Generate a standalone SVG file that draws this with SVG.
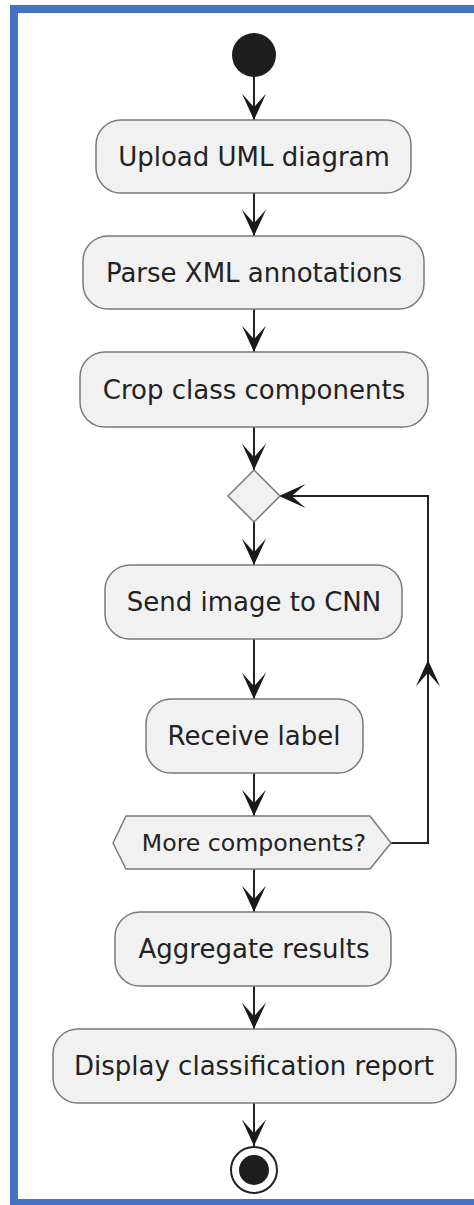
<svg xmlns="http://www.w3.org/2000/svg" width="474" height="1205" viewBox="0 0 474 1205">
<style>
.box{fill:#f1f1f1;stroke:#7a7a7a;stroke-width:1.5}
.lbl{font-family:"DejaVu Sans",sans-serif;font-size:26px;fill:#222;text-anchor:middle}
.small{font-size:23.6px}
.edge{fill:none;stroke:#222;stroke-width:2}
</style>
<defs>
<marker id="arr" markerUnits="userSpaceOnUse" markerWidth="30" markerHeight="30" viewBox="-24 -12 26 24" refX="0" refY="0" orient="auto">
<path d="M0,0 L-23,-10.5 L-11,0 L-23,10.5 Z" fill="#1a1a1a"/>
</marker>
</defs>
<rect x="0" y="0" width="474" height="1205" fill="#ffffff"/>
<rect x="14" y="9" width="470" height="1194" fill="none" stroke="#4472c4" stroke-width="8"/>
<g id="connectors">
<line class="edge" x1="254" y1="77" x2="254" y2="120" marker-end="url(#arr)"/>
<line class="edge" x1="254" y1="193" x2="254" y2="236" marker-end="url(#arr)"/>
<line class="edge" x1="254" y1="309" x2="254" y2="352" marker-end="url(#arr)"/>
<line class="edge" x1="254" y1="427" x2="254" y2="470" marker-end="url(#arr)"/>
<line class="edge" x1="254" y1="522" x2="254" y2="565" marker-end="url(#arr)"/>
<line class="edge" x1="254" y1="639" x2="254" y2="699" marker-end="url(#arr)"/>
<line class="edge" x1="254" y1="773" x2="254" y2="816" marker-end="url(#arr)"/>
<line class="edge" x1="254" y1="869" x2="254" y2="912" marker-end="url(#arr)"/>
<line class="edge" x1="254" y1="986" x2="254" y2="1029" marker-end="url(#arr)"/>
<line class="edge" x1="254" y1="1103" x2="254" y2="1146" marker-end="url(#arr)"/>
<path class="edge" d="M391,843 H428 V660" marker-end="url(#arr)"/>
<path class="edge" d="M428,662 V496 H279" marker-end="url(#arr)"/>
</g>
<g id="start"><circle cx="254" cy="55" r="22" fill="#1e1e1e"/></g>
<g id="upload"><rect class="box" x="96" y="120" width="315" height="73" rx="25"/><text class="lbl" x="254" y="166">Upload UML diagram</text></g>
<g id="parse"><rect class="box" x="83" y="236" width="341" height="73" rx="25"/><text class="lbl" x="254" y="282">Parse XML annotations</text></g>
<g id="crop"><rect class="box" x="80" y="352" width="348" height="75" rx="25"/><text class="lbl" x="254" y="399">Crop class components</text></g>
<g id="merge"><polygon class="box" points="254,470 280,496 254,522 228,496"/></g>
<g id="send"><rect class="box" x="105" y="565" width="297" height="74" rx="25"/><text class="lbl" x="254" y="611">Send image to CNN</text></g>
<g id="receive"><rect class="box" x="146" y="699" width="217" height="74" rx="25"/><text class="lbl" x="254" y="745">Receive label</text></g>
<g id="more"><polygon class="box" points="113,843 126,816 370,816 391,843 370,869 126,869"/><text class="lbl small" x="254" y="851">More components?</text></g>
<g id="aggregate"><rect class="box" x="115" y="912" width="276" height="74" rx="25"/><text class="lbl" x="254" y="958">Aggregate results</text></g>
<g id="display"><rect class="box" x="53" y="1029" width="403" height="74" rx="25"/><text class="lbl" x="254" y="1075">Display classification report</text></g>
<g id="end"><circle cx="254" cy="1170" r="23" fill="#fff" stroke="#222" stroke-width="2"/><circle cx="254" cy="1170" r="15" fill="#1e1e1e"/></g>
</svg>
